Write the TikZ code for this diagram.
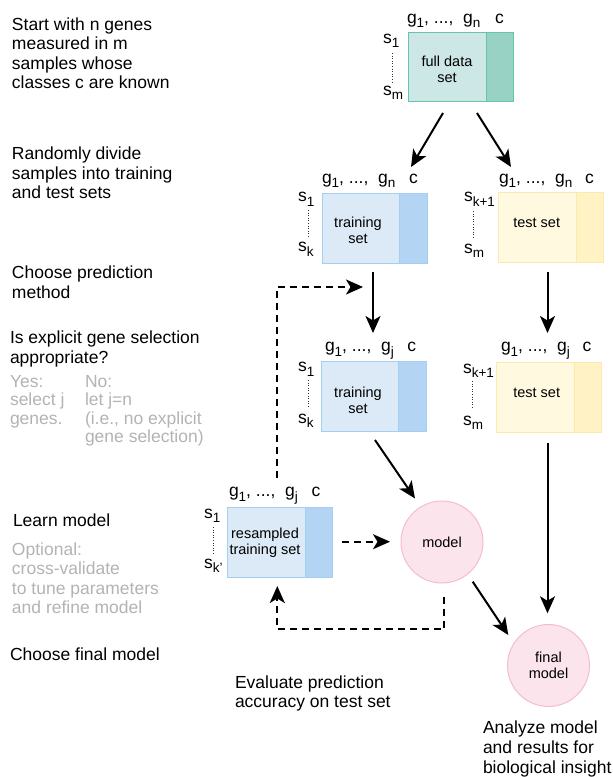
\documentclass[tikz,border=0pt]{standalone}
\usepackage{fontspec}
\setmainfont{Liberation Sans}
\usetikzlibrary{arrows.meta}
\definecolor{tealfill}{HTML}{CDE6E6}
\definecolor{tealdark}{HTML}{97D2C4}
\definecolor{tealline}{HTML}{67C4A8}
\definecolor{bluefill}{HTML}{DCEAF7}
\definecolor{bluedark}{HTML}{B3D5F3}
\definecolor{blueline}{HTML}{A3CFF2}
\definecolor{yelfill}{HTML}{FFF9E0}
\definecolor{yeldark}{HTML}{FFF2C4}
\definecolor{yelline}{HTML}{FCE9AE}
\definecolor{pinkfill}{HTML}{FCE4EC}
\definecolor{pinkline}{HTML}{F6BCCD}
\definecolor{graytext}{HTML}{B3B3B3}
\newcommand{\sbs}[1]{\raisebox{-4.5pt}{\fontsize{13.5}{13.5}\selectfont #1}}
\newcommand{\fl}{\rule{0pt}{13.5pt}}
\newcommand{\fs}{\rule{0pt}{11pt}}
\begin{document}
\begin{tikzpicture}[x=1pt,y=-1pt,
  every node/.style={inner sep=0pt, outer sep=0pt},
  bigtext/.style={font=\fontsize{17.5}{19.5}\selectfont, align=left, anchor=north west},
  graytxt/.style={bigtext, text=graytext},
  boxtext/.style={font=\fontsize{14.5}{16}\selectfont, align=center, anchor=north},
  boxtextb/.style={font=\fontsize{14.5}{16}\selectfont, anchor=base},
  hdr/.style={font=\fontsize{17.5}{19.5}\selectfont, anchor=base west},
  hdrc/.style={font=\fontsize{17.5}{19.5}\selectfont, anchor=base},
  rect/.style={draw, line width=1pt, anchor=north west, minimum height=70pt},
  mainteal/.style={rect, fill=tealfill, draw=tealline, minimum width=78pt, minimum height=69pt},
  classteal/.style={rect, fill=tealdark, draw=tealline, minimum width=27pt, minimum height=69pt},
  mainblue/.style={rect, fill=bluefill, draw=blueline, minimum width=78pt},
  classblue/.style={rect, fill=bluedark, draw=blueline, minimum width=28pt},
  mainyel/.style={rect, fill=yelfill, draw=yelline, minimum width=78pt},
  classyel/.style={rect, fill=yeldark, draw=yelline, minimum width=27pt},
  circ/.style={circle, draw=pinkline, fill=pinkfill, line width=1pt, minimum size=82pt,
    font=\fontsize{14.5}{16}\selectfont, align=center},
  dotline/.style={line width=1pt, dash pattern=on 1pt off 1.6pt, black!80},
  arr/.style={line width=2pt, -{Stealth[length=17pt,width=15pt,inset=4.5pt]}},
  darr/.style={arr, dash pattern=on 7pt off 5pt},
]
\useasboundingbox (0,0) rectangle (613,777);

% ---------- left column texts ----------
\node[bigtext] (t1) at (12,30-13.5) {\fl Start with n genes\\measured in m\\samples whose\\classes c are known};
\node[bigtext] (t2) at (12,159.5-13.5) {\fl Randomly divide\\samples into training\\and test sets};
\node[bigtext] (t3) at (12,278.5-13.5) {\fl Choose prediction\\method};
\node[bigtext] (t4) at (10,343.5-13.5) {\fl Is explicit gene selection\\appropriate?};
\node[graytxt, font=\fontsize{17.5}{18.3}\selectfont] (t5) at (10,387.5-13.5) {\fl Yes:\\select j\\genes.};
\node[graytxt, font=\fontsize{17.5}{18.3}\selectfont] (t6) at (85,387.5-13.5) {\fl No:\\let j=n\\(i.e., no explicit\\gene selection)};
\node[bigtext] (t7) at (13,526.5-13.5) {\fl Learn model};
\node[graytxt, font=\fontsize{17.5}{19.3}\selectfont] (t8) at (12,555.5-13.5) {\fl Optional:\\cross-validate\\to tune parameters\\and refine model};
\node[bigtext] (t9) at (10,660.5-13.5) {\fl Choose final model};
\node[bigtext, font=\fontsize{17.5}{19}\selectfont] (t10) at (235,688.5-13.5) {\fl Evaluate prediction\\accuracy on test set};
\node[bigtext, font=\fontsize{17.5}{20}\selectfont] (t11) at (483,733.5-13.5) {\fl Analyze model\\and results for\\biological insight};

% ---------- full data set ----------
\node[mainteal] (full) at (408,32) {};
\node[classteal] (fullc) at (486,32) {};
\node[boxtext] (fulllab) at (447,55) {\fs full data\\set};
\node[hdr] (fullg) at (407,23.3) {g\sbs{1}, ..., \ g\sbs{n}};
\node[hdrc] (fullcc) at (499.5,23.3) {c};
\node[hdr] (fulls1) at (383,43) {s\sbs{1}};
\node[hdr] (fullsm) at (383,95) {s\sbs{m}};
\draw[dotline] (392,53) -- (392,82);

% ---------- training set (n) ----------
\node[mainblue] (trn) at (322,193) {};
\node[classblue] (trnc) at (399,193) {};
\node[boxtext] (trnlab) at (358,216.5) {\fs training\\set};
\node[hdr] (trng) at (322,183.3) {g\sbs{1}, ..., \ g\sbs{n}};
\node[hdrc] (trncc) at (413.5,183.3) {c};
\node[hdr] (trns1) at (298,201.7) {s\sbs{1}};
\node[hdr] (trnsk) at (298,251.7) {s\sbs{k}};
\draw[dotline] (308,210) -- (308,237);

% ---------- test set (n) ----------
\node[mainyel] (tsn) at (498,192.5) {};
\node[classyel] (tsnc) at (576,192.5) {};
\node[boxtextb] (tsnlab) at (536.7,227.5) {test set};
\node[hdr] (tsng) at (499,183.3) {g\sbs{1}, ..., \ g\sbs{n}};
\node[hdrc] (tsncc) at (589.5,183.3) {c};
\node[hdr] (tsns1) at (464,201.7) {s\sbs{k+1}};
\node[hdr] (tsnsm) at (464,253) {s\sbs{m}};
\draw[dotline] (473,211) -- (473,239);

% ---------- training set (j) ----------
\node[mainblue] (trj) at (321,361) {};
\node[classblue] (trjc) at (398,361) {};
\node[boxtext] (trjlab) at (358,386) {\fs training\\set};
\node[hdr] (trjg) at (325,351.7) {g\sbs{1}, ..., \ g\sbs{j}};
\node[hdrc] (trjcc) at (411.7,351.7) {c};
\node[hdr] (trjs1) at (298,371.7) {s\sbs{1}};
\node[hdr] (trjsk) at (298,423.3) {s\sbs{k}};
\draw[dotline] (308,380) -- (308,408);

% ---------- test set (j) ----------
\node[mainyel] (tsj) at (496,362) {};
\node[classyel] (tsjc) at (574,362) {};
\node[boxtextb] (tsjlab) at (536.7,397) {test set};
\node[hdr] (tsjg) at (501,351.7) {g\sbs{1}, ..., \ g\sbs{j}};
\node[hdrc] (tsjcc) at (587,351.7) {c};
\node[hdr] (tsjs1) at (463,373) {s\sbs{k+1}};
\node[hdr] (tsjsm) at (463,425) {s\sbs{m}};
\draw[dotline] (472,381) -- (472,409);

% ---------- resampled training set ----------
\node[mainblue] (rs) at (227,507) {};
\node[classblue, minimum width=27pt] (rsc) at (305,507) {};
\node[boxtext] (rslab) at (265,527) {\fs resampled\\training set};
\node[hdr] (rsg) at (229,496.7) {g\sbs{1}, ..., \ g\sbs{j}};
\node[hdrc] (rscc) at (316,496.7) {c};
\node[hdr] (rss1) at (204,518.3) {s\sbs{1}};
\node[hdr] (rssk) at (204,568.3) {s\sbs{k'}};
\draw[dotline] (213,527) -- (213,555);

% ---------- circles ----------
\node[circ] (model) at (442,542) {model};
\node[circ] (final) at (548.5,665.5) {final\\model};

% ---------- connector end points ----------
\coordinate (a1s) at (443,113);   \coordinate (a1e) at (411,167);
\coordinate (a2s) at (477,113);   \coordinate (a2e) at (511,167);
\coordinate (a3s) at (373,272);   \coordinate (a3e) at (373,333);
\coordinate (a4s) at (547.5,272); \coordinate (a4e) at (547.5,333);
\coordinate (a5s) at (375,440);   \coordinate (a5e) at (415,498.5);
\coordinate (a6s) at (472.7,581.7); \coordinate (a6e) at (508.3,635);
\coordinate (a7s) at (547.5,443); \coordinate (a7e) at (547.5,613.3);
\coordinate (d1s) at (277,478);   \coordinate (d1e) at (363,287);
\coordinate (d2s) at (342,541.7); \coordinate (d2e) at (390,541.7);
\coordinate (d3s) at (444,596.7); \coordinate (d3e) at (277.3,586);

% ---------- connectors ----------
\draw[arr] (a1s) -- (a1e);
\draw[arr] (a2s) -- (a2e);
\draw[arr] (a3s) -- (a3e);
\draw[arr] (a4s) -- (a4e);
\draw[arr] (a5s) -- (a5e);
\draw[arr] (a6s) -- (a6e);
\draw[arr] (a7s) -- (a7e);
\draw[darr] (d1s) |- (d1e);
\draw[darr] (d2s) -- (d2e);
\draw[darr] (d3s) -- (444,629.3) -| (d3e);
\end{tikzpicture}
\end{document}
